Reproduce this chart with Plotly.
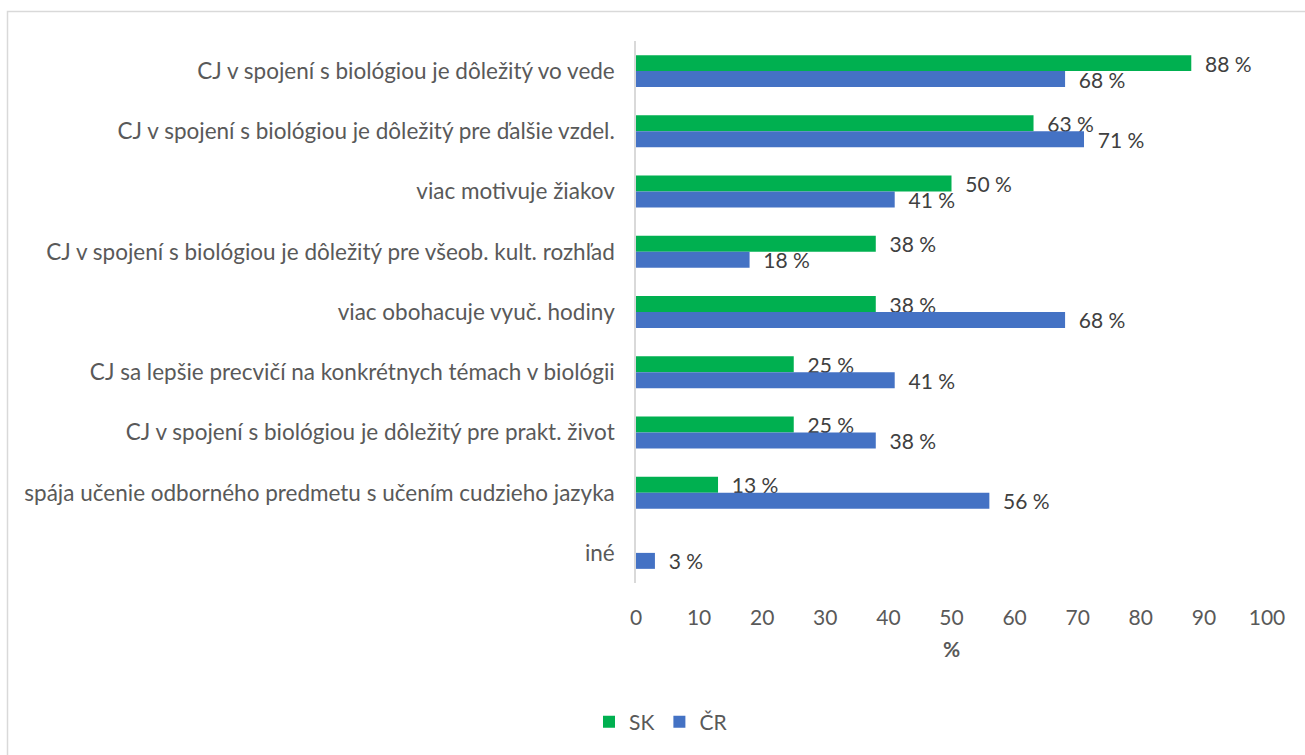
import plotly.graph_objects as go

# Survey answers (share of respondents, %)
categories = [
    "CJ v spojení s biológiou je dôležitý vo vede",
    "CJ v spojení s biológiou je dôležitý pre ďalšie vzdel.",
    "viac motivuje žiakov",
    "CJ v spojení s biológiou je dôležitý pre všeob. kult. rozhľad",
    "viac obohacuje vyuč. hodiny",
    "CJ sa lepšie precvičí na konkrétnych témach v biológii",
    "CJ v spojení s biológiou je dôležitý pre prakt. život",
    "spája učenie odborného predmetu s učením cudzieho jazyka",
    "iné",
]
sk_values = [88, 63, 50, 38, 38, 25, 25, 13, None]
cr_values = [68, 71, 41, 18, 68, 41, 38, 56, 3]
x_ticks = [0, 10, 20, 30, 40, 50, 60, 70, 80, 90, 100]

FONT = "Lato"
TXT = "#595959"
LBL = "#404040"
PAD = "\u00a0\u00a0"

fig = go.Figure()
fig.add_trace(go.Bar(
    name="SK", y=categories, x=sk_values, orientation="h",
    marker=dict(color="#00B050", line=dict(width=0)),
    texttemplate=PAD + "%{x} %", textposition="outside",
    textfont=dict(family=FONT, size=21, color=LBL),
    constraintext="none", cliponaxis=False,
))
fig.add_trace(go.Bar(
    name="ČR", y=categories, x=cr_values, orientation="h",
    marker=dict(color="#4472C4", line=dict(width=0)),
    texttemplate=PAD + "%{x} %", textposition="outside",
    textfont=dict(family=FONT, size=21, color=LBL),
    constraintext="none", cliponaxis=False,
))

W, H = 1305, 755
L, R, T, B = 636, 38, 41, 172
pw, ph = W - L - R, H - T - B

def px_x(p):
    return (p - L) / pw

def px_y(p):
    return (H - B - p) / ph

fig.update_layout(
    width=W, height=H,
    margin=dict(l=L, r=R, t=T, b=B),
    paper_bgcolor="white", plot_bgcolor="white",
    barmode="group", bargap=0.47, bargroupgap=0,
    font=dict(family=FONT, size=21, color=TXT),
    showlegend=True,
    legend=dict(
        orientation="h", x=px_x(661), y=px_y(722),
        xanchor="center", yanchor="middle",
        font=dict(family=FONT, size=21, color=TXT),
        itemwidth=30, traceorder="normal",
    ),
    xaxis=dict(
        range=[0, 100], tickvals=x_ticks, showgrid=False, zeroline=False,
        showline=False, ticks="", ticklabelstandoff=20,
        tickfont=dict(family=FONT, size=21, color=TXT),
        title=dict(text="<b>%</b>", font=dict(family=FONT, size=21, color=TXT), standoff=14),
        fixedrange=True,
    ),
    yaxis=dict(
        autorange="reversed", showgrid=False, zeroline=False,
        showline=True, linecolor="#D9D9D9", linewidth=1.5, ticks="",
        ticklabelstandoff=15,
        tickfont=dict(family=FONT, size=22.5, color=TXT),
    ),
    shapes=[dict(
        type="rect", xref="paper", yref="paper",
        x0=px_x(7.5), x1=px_x(1330), y0=px_y(790), y1=px_y(11.5),
        line=dict(color="#D9D9D9", width=1.5), fillcolor="rgba(0,0,0,0)",
        layer="below",
    )],
)

fig.write_html("out.html")
